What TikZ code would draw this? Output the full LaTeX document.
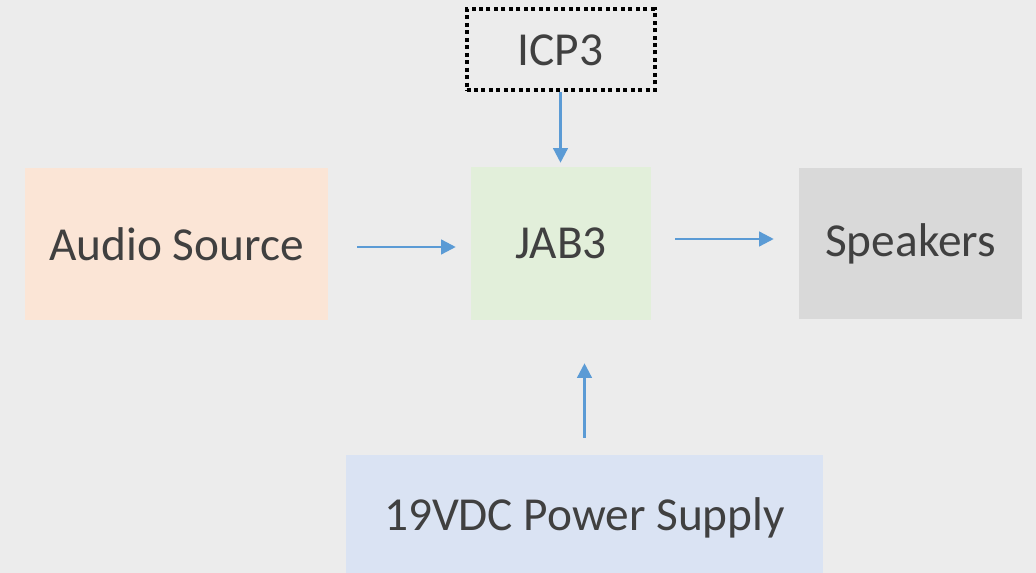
\documentclass[tikz,border=0pt]{standalone}
\usepackage{fontspec}
\setmainfont{Carlito}
\usetikzlibrary{arrows.meta}
\definecolor{bg}{HTML}{ECECEC}
\definecolor{txt}{HTML}{404040}
\definecolor{arr}{HTML}{5B9BD5}
\definecolor{orangebox}{HTML}{FBE5D6}
\definecolor{greenbox}{HTML}{E2EFDA}
\definecolor{greybox}{HTML}{D9D9D9}
\definecolor{bluebox}{HTML}{DAE3F3}
\begin{document}
\begin{tikzpicture}[x=0.75pt,y=-0.75pt,
  blk/.style={inner sep=0pt, text=txt, font=\fontsize{35.5}{40}\selectfont},
  conn/.style={draw=arr, line width=1.8pt, -{Triangle[length=11pt,width=11pt]}}]
\useasboundingbox (0,0) rectangle (1036,573);
\clip (0,0) rectangle (1036,573);
\fill[bg] (0,0) rectangle (1036,573);
\node[blk, fill=orangebox, minimum width=303*0.75pt, minimum height=152*0.75pt] (audio) at (176.5,244) {\raisebox{-2pt}{Audio Source}};
\node[blk, fill=greenbox, minimum width=180*0.75pt, minimum height=153*0.75pt] (jab) at (561,243.5) {\raisebox{-1pt}{JAB3}};
\node[blk, fill=greybox, minimum width=223*0.75pt, minimum height=151*0.75pt] (spk) at (910.5,243.5) {\raisebox{-2pt}{Speakers}};
\node[blk, draw=black, line width=3pt, dash pattern=on 3pt off 2.6pt, minimum width=188*0.75pt, minimum height=81*0.75pt] (icp) at (560.5,50) {ICP3};
\node[blk, fill=bluebox, minimum width=477*0.75pt, minimum height=130*0.75pt] (pwr) at (584.5,520) {};
\node[blk] (pwrtxt) at (584.5,518) {19VDC Power Supply};
\draw[conn, shorten <=29*0.75pt, shorten >=15*0.75pt] ([yshift=-3*0.75pt]audio.east) -- ([yshift=-3.5*0.75pt]jab.west);
\draw[conn, shorten <=24*0.75pt, shorten >=25*0.75pt] ([yshift=4.5*0.75pt]jab.east) -- ([yshift=4.5*0.75pt]spk.west);
\draw[conn, shorten >=4*0.75pt] (icp.south) -- (icp.south |- jab.north);
\draw[conn, shorten <=17*0.75pt, shorten >=43*0.75pt] (pwr.north) -- (pwr.north |- jab.south);
\end{tikzpicture}
\end{document}
